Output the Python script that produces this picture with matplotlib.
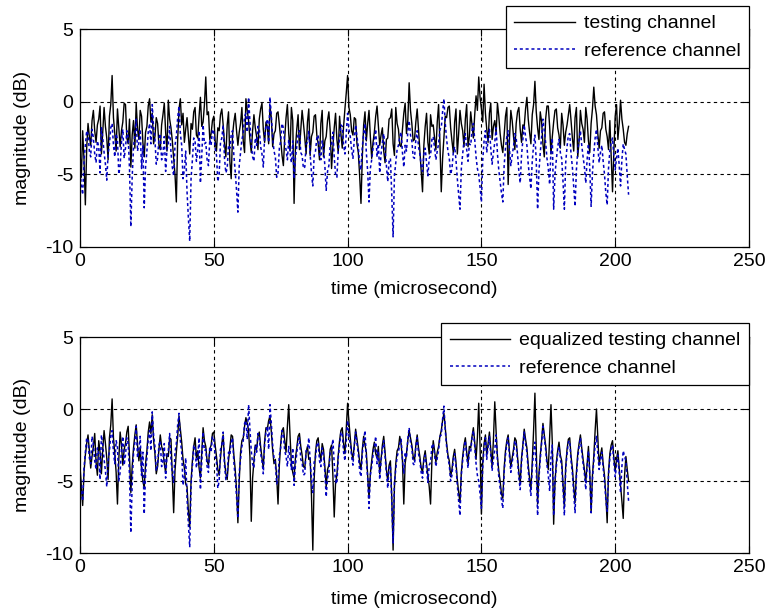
import numpy as np
import matplotlib
matplotlib.use("Agg")
import matplotlib.pyplot as plt

plt.rcParams['font.family'] = ['Liberation Sans', 'DejaVu Sans']
plt.rcParams['axes.unicode_minus'] = False

# time axis in microseconds, 0.5 us sampling
t_us = np.arange(0, 205.5, 0.5)

# reference channel (same in both panels), dB
ref_db = [
    -4.5, -5.8, -6.4, -4.1, -3.0, -2.0, -2.2, -3.4, -3.8, -1.9, -2.5, -3.6, -4.2, -2.7, -3.1, -4.9, -1.8, -2.5, -3.5, -4.3,
    -5.4, -3.6, -2.9, -1.8, -1.5, -3.0, -3.8, -2.2, -2.6, -5.0, -4.4, -2.8, -1.9, -3.9, -3.2, -2.0, -2.4, -4.6, -8.6, -5.2,
    -3.1, -2.3, -1.2, -3.4, -2.8, -1.9, -4.6, -3.0, -7.3, -4.5, -3.4, -2.1, -1.5, -2.9, -0.2, -1.8, -2.6, -4.3, -3.9, -2.5,
    -2.2, -4.0, -3.6, -2.4, -4.8, -3.3, -2.9, -1.7, -3.5, -4.5, -5.1, -3.0, -2.4, -1.1, -0.3, -2.2, -3.0, -5.3, -4.7, -3.4,
    -6.2, -8.0, -9.6, -5.3, -4.0, -2.5, -2.7, -4.1, -3.3, -2.0, -5.6, -3.7, -1.6, -2.9, -2.8, -4.0, -4.4, -2.6, -3.0, -1.9,
    -2.1, -3.2, -3.7, -5.5, -5.0, -2.8, -2.5, -1.6, -3.9, -4.9, -4.6, -3.0, -3.2, -2.3, -2.0, -3.7, -4.8, -6.1, -7.6, -4.4,
    -3.5, -2.6, -2.2, -1.0, -0.8, -2.1, 0.3, -1.4, -2.9, -3.8, -4.1, -2.5, -3.0, -1.7, -1.9, -3.1, -3.6, -4.5, -2.4, -1.6,
    -1.2, -2.8, 0.3, -1.0, -2.5, -3.4, -3.8, -5.2, -4.9, -3.2, -2.7, -1.5, -1.8, -2.9, -3.3, -4.0, -2.6, -3.5, -4.2, -2.7,
    -5.3, -3.9, -3.1, -2.2, -2.0, -3.5, -3.7, -4.6, -4.5, -2.9, -2.8, -2.0, -3.6, -4.9, -5.8, -3.7, -3.4, -2.5, -2.3, -3.6,
    -4.0, -2.7, -3.2, -4.4, -6.1, -4.8, -4.4, -3.0, -2.9, -2.1, -3.8, -5.0, -5.2, -3.4, -2.5, -1.6, -1.7, -3.0, -3.6, -2.2,
    -0.8, -1.9, -2.4, -3.3, -3.9, -2.6, -1.6, -2.4, -3.1, -4.3, -4.7, -3.1, -2.2, -1.5, -3.5, -4.8, -6.9, -4.6, -4.0, -3.2,
    -2.6, -1.9, -3.8, -2.9, -4.9, -3.6, -2.8, -2.2, -3.3, -4.4, -5.5, -4.1, -3.9, -6.4, -9.3, -5.1, -4.2, -3.3, -3.0, -2.4,
    -2.1, -3.5, -4.5, -3.0, -3.4, -2.1, -1.3, -2.3, -2.7, -3.8, -3.9, -2.6, -2.0, -3.1, -3.6, -4.4, -4.8, -3.6, -3.2, -4.2,
    -5.1, -3.9, -3.7, -2.6, -2.4, -3.2, -4.0, -3.4, -2.9, -1.9, -1.8, -0.7, 0.2, -1.5, -2.6, -3.4, -3.9, -5.0, -4.6, -3.5,
    -3.1, -4.0, -5.3, -6.4, -7.4, -4.6, -3.6, -2.7, -2.2, -3.3, -4.1, -2.9, -3.0, -2.0, -1.5, -2.6, -3.8, -4.6, -5.0, -5.9,
    -6.9, -4.0, -2.7, -2.0, -3.5, -2.6, -1.9, -3.2, -4.3, -3.5, -2.8, -1.8, -3.6, -4.7, -5.5, -6.3, -6.9, -4.4, -3.2, -2.4,
    -2.0, -3.3, -4.4, -3.7, -3.1, -2.2, -2.5, -3.6, -4.8, -5.6, -3.7, -2.6, -1.6, -2.4, -3.0, -4.3, -5.2, -6.0, -4.1, -3.0,
    -2.3, -4.1, -7.4, -4.8, -3.5, -2.4, -1.2, -2.0, -2.8, -3.9, -4.6, -5.7, -3.3, -2.5, -7.4, -5.0, -4.0, -3.1, -2.6, -3.5,
    -3.9, -5.5, -7.4, -4.2, -3.1, -2.3, -2.2, -3.6, -4.5, -5.9, -7.2, -4.7, -3.4, -2.6, -2.0, -3.0, -3.8, -4.5, -5.6, -4.0,
    -2.9, -4.6, -7.2, -4.9, -3.6, -2.5, -1.9, -3.1, -4.2, -3.5, -3.0, -4.1, -5.0, -6.3, -7.1, -4.6, -3.4, -2.8, -2.5, -3.7,
    -4.7, -3.9, -3.2, -4.4, -5.8, -4.0, -2.9, -3.3, -3.6, -5.1, -6.4,
]

# testing channel before equalization, dB
test_db = [
    -3.5, -5.2, -2.0, -4.0, -7.1, -3.2, -1.5, -2.4, -3.0, -1.3, -0.6, -2.0, -2.8, -1.6, -1.2, -0.3, -3.6, -2.1, -0.4, -1.7,
    -2.5, -4.0, -1.0, -0.2, 1.8, -1.1, -2.2, -3.4, -0.5, -1.8, -3.1, -2.0, -1.4, -0.1, -0.2, -2.5, -2.9, -1.2, -4.5, -2.3,
    -1.3, -3.2, -0.1, -1.9, -2.6, -0.6, -1.0, -2.8, -3.8, -2.1, -1.7, -0.3, 0.2, -1.4, -0.8, -2.9, -2.4, -1.1, -1.5, -3.0,
    -3.3, -1.6, -0.9, -0.1, -2.1, -3.4, 0.1, -1.2, -1.8, -2.7, -3.9, -5.0, -6.9, -2.6, -0.5, 0.2, -1.6, -0.8, -2.8, -1.9,
    -1.1, -2.4, -3.6, -1.5, -1.9, -0.7, -0.4, -2.3, -2.5, -1.0, 0.3, -1.7, -1.4, -0.2, 1.7, -0.9, -0.7, -2.6, -2.2, -1.3,
    -1.0, -2.7, -3.4, -1.8, -2.0, -0.9, -0.5, -1.6, -2.9, -3.8, -1.6, -0.7, -4.1, -5.3, -2.3, -1.4, -0.8, -2.0, -3.0, -2.1,
    -1.5, -0.4, -2.7, -3.5, 0.2, -0.6, -1.3, -2.6, -3.5, -2.0, -0.9, -1.8, -2.4, -3.3, -1.2, -0.5, -0.1, -1.9, -2.8, -1.4,
    -1.7, -2.9, -0.3, -1.1, -3.1, -2.2, -2.0, -0.8, -0.7, -1.6, -2.6, -3.7, -4.4, -2.5, -1.1, -0.2, -2.2, -3.4, -0.4, -1.3,
    -7.0, -3.2, -1.9, -0.9, -3.3, -2.0, -0.6, -1.5, -2.5, -3.6, -1.4, -0.5, -3.7, -2.4, -2.1, -1.0, -0.9, -2.3, -2.9, -4.0,
    -1.5, -0.6, -3.8, -2.7, -2.4, -1.3, -0.7, -2.0, -4.6, -3.1, -1.8, -0.8, -2.6, -3.5, -1.0, -2.2, -3.2, -1.7, -0.5, 0.6,
    1.8, -0.4, -0.9, -2.0, -2.3, -1.1, -1.2, -2.9, -3.5, -5.1, -7.0, -3.8, -1.6, -0.7, -2.7, -1.5, -0.6, -2.4, -3.9, -2.8,
    -2.1, -1.0, -0.3, -1.6, -3.0, -2.3, -1.8, -3.4, -4.2, -2.6, -2.5, -1.2, -1.1, -0.5, -2.9, -3.7, -0.4, -1.5, -1.9, -3.0,
    -3.1, -1.9, -0.8, -0.1, -2.2, -1.3, 1.3, -0.6, -1.5, -2.7, -2.6, -1.4, -0.5, -1.9, -3.4, -4.6, -6.2, -3.0, -1.7, -0.8,
    -2.8, -3.6, -0.9, -1.7, -1.6, -2.5, -3.3, -1.4, -0.2, -2.8, -6.2, -3.9, -2.4, -1.0, -1.1, -0.4, -0.3, -1.8, -2.7, -3.5,
    -1.4, -0.5, -3.6, -2.2, -0.6, -1.5, -2.0, -3.1, -1.2, -0.2, -3.1, -2.4, -0.7, -1.6, -2.5, -0.9, 0.4, -0.6, 1.7, 0.3,
    -0.5, -1.4, 1.2, -0.8, -1.9, -2.8, -0.8, -0.1, -2.6, -1.7, -1.3, -2.2, -0.1, -1.0, -2.2, -3.0, -3.5, -2.3, -1.0, -0.4,
    -5.7, -2.5, -0.6, -1.3, -2.4, -3.3, -1.5, -0.7, -0.4, -1.9, -2.8, -1.6, -1.7, -0.5, 0.3, -1.2, -2.1, -2.9, -0.9, -0.2,
    1.4, -0.7, -1.8, -2.6, -0.7, -1.4, -2.9, -3.8, -1.2, -0.3, -0.3, -1.7, -3.6, -2.4, -1.4, -0.6, -0.5, -1.8, -2.3, -3.2,
    -0.8, -1.6, -3.0, -2.1, -1.6, -0.9, -0.2, -1.3, -2.5, -3.4, -1.1, -0.4, -3.8, -2.7, -0.6, -1.5, -1.9, -2.8, -0.4, -1.2,
    -2.7, -3.5, -1.5, -0.5, 1.0, -0.3, -0.9, -2.2, -3.2, -2.0, -1.8, -0.8, -0.7, -1.9, -2.4, -3.3, -1.3, -3.8, -6.2, -3.4,
    -1.0, -0.2, -2.6, -1.5, 0.1, -1.2, -1.9, -2.8, -3.0, -2.2, -1.7,
]

# testing channel after equalization, dB
eq_db = [
    -4.0, -5.3, -6.7, -4.4, -3.2, -2.4, -1.8, -2.9, -4.1, -3.3, -2.6, -1.7, -3.7, -4.6, -2.2, -3.0, -4.5, -2.8, -1.5, -2.4,
    -3.4, -4.9, -2.0, -1.1, 0.7, -2.0, -3.1, -4.4, -6.6, -3.5, -1.6, -2.5, -3.9, -2.8, -2.4, -1.6, -1.2, -3.3, -5.8, -4.0,
    -2.7, -1.8, -1.1, -2.5, -3.6, -2.7, -4.2, -5.0, -5.5, -3.8, -2.9, -1.6, -0.9, -1.7, -0.4, -2.2, -3.1, -4.5, -4.0, -2.8,
    -1.8, -2.6, -2.9, -3.8, -4.4, -3.1, -3.3, -2.0, -2.1, -4.6, -7.2, -4.3, -3.0, -1.9, -0.5, -1.4, -2.3, -3.5, -4.1, -5.2,
    -5.4, -7.1, -8.2, -5.0, -3.6, -2.6, -2.0, -3.4, -2.9, -4.1, -4.8, -3.1, -1.3, -2.2, -2.6, -3.6, -3.9, -2.8, -2.5, -1.7,
    -1.6, -2.5, -3.3, -4.2, -4.6, -3.4, -2.4, -1.8, -3.6, -4.5, -4.9, -3.6, -2.7, -1.8, -1.9, -3.2, -4.2, -5.6, -7.9, -5.0,
    -3.0, -2.2, -2.0, -1.2, -0.6, -1.0, -1.5, -3.3, -7.8, -4.8, -3.6, -2.5, -2.8, -1.9, -1.6, -2.6, -3.4, -4.1, -2.2, -1.3,
    -1.4, -0.8, -0.5, -1.6, -2.9, -3.8, -3.5, -4.7, -6.6, -3.9, -2.4, -1.5, -1.3, -2.2, -3.0, -1.2, 0.3, -1.9, -3.8, -4.4,
    -4.8, -3.4, -2.7, -1.9, -1.7, -2.6, -3.2, -4.0, -4.1, -3.0, -2.6, -3.5, -3.4, -6.0, -9.8, -4.9, -3.0, -2.2, -2.0, -3.0,
    -3.6, -2.4, -2.8, -4.0, -5.4, -4.2, -3.9, -2.8, -2.5, -4.6, -7.5, -5.1, -4.6, -3.2, -2.2, -1.5, -1.3, -2.4, -3.1, -1.4,
    0.4, -0.9, -2.0, -3.0, -3.5, -2.5, -1.4, -2.1, -2.8, -3.7, -4.2, -2.8, -1.9, -2.5, -3.0, -4.6, -6.2, -4.5, -3.6, -2.8,
    -2.3, -3.1, -3.4, -2.6, -4.5, -3.5, -2.5, -1.9, -3.0, -4.2, -5.0, -3.9, -3.6, -6.1, -9.8, -5.4, -3.8, -2.9, -2.7, -1.9,
    -2.4, -3.6, -6.6, -3.8, -3.1, -2.2, -1.5, -2.0, -2.5, -3.3, -3.6, -2.5, -1.8, -2.7, -3.3, -4.1, -4.4, -3.4, -2.9, -3.8,
    -4.6, -5.4, -6.6, -3.6, -2.2, -2.9, -3.7, -3.0, -2.6, -1.9, -1.5, -0.8, -0.3, -1.3, -2.4, -3.2, -3.6, -4.7, -4.2, -3.3,
    -2.8, -3.7, -4.9, -5.8, -6.5, -4.4, -3.3, -2.5, -2.0, -3.0, -3.8, -2.6, -2.7, -1.9, -1.3, -2.3, -3.5, -2.0, 0.4, -2.6,
    -7.3, -3.7, -2.4, -1.8, -3.2, -2.4, -1.6, -2.8, -4.0, -2.1, 0.5, -1.6, -3.3, -4.3, -5.0, -5.9, -6.2, -4.1, -2.9, -2.2,
    -1.8, -3.0, -4.0, -3.4, -2.8, -2.0, -2.2, -3.3, -4.4, -5.2, -3.4, -2.5, -1.4, -2.1, -2.7, -3.9, -4.8, -5.6, -3.7, -1.5,
    1.1, -2.8, -6.6, -4.5, -3.2, -2.2, -1.0, -1.8, -2.5, -3.6, -4.2, -2.0, 0.3, -2.4, -8.0, -5.1, -3.7, -2.9, -2.3, -3.2,
    -3.6, -5.2, -6.8, -4.0, -2.8, -2.1, -2.0, -3.3, -4.1, -5.4, -6.5, -4.4, -3.1, -2.4, -1.8, -2.7, -3.5, -4.2, -5.1, -3.8,
    -2.6, -4.4, -7.2, -4.6, -3.3, -1.5, 0.0, -2.0, -3.9, -3.2, -2.7, -3.8, -4.6, -6.0, -7.9, -4.4, -3.1, -2.5, -2.2, -3.4,
    -4.3, -3.5, -2.9, -4.1, -5.3, -6.4, -7.6, -4.6, -3.3, -4.2, -5.0,
]

x_ticks = [0, 50, 100, 150, 200, 250]
y_ticks = [-10, -5, 0, 5]

W, H = 767, 613
fig = plt.figure(figsize=(W / 100, H / 100), dpi=100)
FS = 14

def make_axes(top_px, bottom_px):
    return fig.add_axes([80 / W, 1 - bottom_px / H, (749 - 80) / W, (bottom_px - top_px) / H])

def style(ax, black, label, leg_top, xlab_off):
    ax.plot(t_us, black, color='k', lw=1.0, label=label)
    ax.plot(t_us, ref_db, color=(0, 0, 0.75), lw=1.1, ls=(0, (2, 1.8)), label='reference channel')
    ax.set_xlim(0, 250)
    ax.set_ylim(-10, 5)
    ax.set_xticks(x_ticks)
    ax.set_yticks(y_ticks)
    ax.tick_params(direction='in', length=5, labelsize=FS, top=True, right=True)
    ax.tick_params(axis='x', pad=4.5)
    ax.tick_params(axis='y', pad=5)
    for v in x_ticks[1:-1]:
        ax.axvline(v, color='k', lw=0.8, ls=(0, (3, 3)), zorder=0)
    for v in y_ticks[1:-1]:
        ax.axhline(v, color='k', lw=0.8, ls=(0, (3, 3)), zorder=0)
    ax.set_xlabel('time (microsecond)', fontsize=FS, va='center')
    ax.set_ylabel('magnitude (dB)', fontsize=FS, va='center')
    h = ax.get_position().height * H
    ax.xaxis.set_label_coords(0.5, -xlab_off / h)
    ax.yaxis.set_label_coords((23 - 80) / 669, 0.5)
    for s in ax.spines.values():
        s.set_linewidth(0.9)
    leg = ax.legend(loc='upper right', bbox_to_anchor=(749 / W, 1 - leg_top / H),
                    bbox_transform=fig.transFigure, borderaxespad=0, fontsize=FS,
                    handlelength=3.1, fancybox=False, framealpha=1, edgecolor='k',
                    borderpad=0.45, labelspacing=0.5, handletextpad=0.45)
    leg.get_frame().set_linewidth(0.9)

ax1 = make_axes(29, 247)
style(ax1, test_db, 'testing channel', 6, 43)
ax2 = make_axes(337, 553)
style(ax2, eq_db, 'equalized testing channel', 323, 46)

fig.savefig('out.png', dpi=100)
